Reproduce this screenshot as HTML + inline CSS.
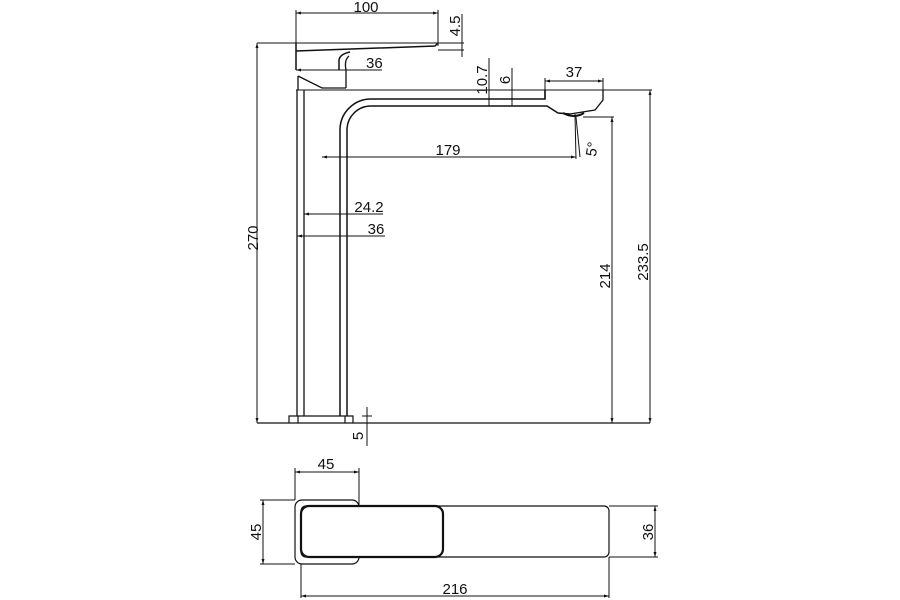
<!DOCTYPE html>
<html><head><meta charset="utf-8"><style>
html,body{margin:0;padding:0;background:#fff;}
svg{display:block;}
text{font-family:"Liberation Sans",Arial,sans-serif;font-size:15px;fill:#111;}
</style></head><body>
<svg width="900" height="600" viewBox="0 0 900 600" xmlns="http://www.w3.org/2000/svg">
<defs>
<marker id="a" viewBox="0 0 10 10" refX="10" refY="5" markerWidth="5" markerHeight="5" orient="auto-start-reverse"><path d="M0,2 L10,5 L0,8z" fill="#111"/></marker>
</defs>
<g stroke="#111" stroke-width="1" fill="none">
<line x1="296" y1="13" x2="438" y2="13" marker-start="url(#a)" marker-end="url(#a)"/>
<line x1="296" y1="10" x2="296" y2="52"/>
<line x1="438" y1="10" x2="438" y2="46"/>
<line x1="462" y1="14" x2="462" y2="57"/>
<line x1="257" y1="43" x2="464" y2="43"/>
<line x1="438" y1="50" x2="464" y2="50"/>
<path d="M296,43 L296,70 M296,51 L435,46 L438,43" stroke-width="1.5"/>
<path d="M350,52 Q340,54 339,60 L339,70" stroke-width="1.5"/>
<path d="M349,56 Q344,60 346,70 L346,88" stroke-width="1.3"/>
<path d="M298,76 L322,88 L346,88 M298,76 L298,90" stroke-width="1.3"/>
<line x1="296" y1="70" x2="382" y2="70" marker-start="url(#a)"/>
<line x1="296" y1="90" x2="652" y2="90"/>
<path d="M297,90 L297,416 M304,90 L304,416" stroke-width="1.3"/>
<path d="M340,416 L340,130 A31,31 0 0 1 371,99 L545,99 L545,90" stroke-width="1.5"/>
<path d="M347,416 L347,130 A24,24 0 0 1 371,106 L547,106 L558,113 L570,114" stroke-width="1.5"/>
<path d="M545,99 L545,90 M603,90 L603,100 L595,110 L570,114" stroke-width="1.3"/>
<path d="M563,113 Q574,119 584,113" stroke-width="2"/>
<line x1="489" y1="58" x2="489" y2="106"/>
<line x1="512" y1="68" x2="512" y2="106"/>
<line x1="545" y1="81" x2="603" y2="81" marker-start="url(#a)" marker-end="url(#a)"/>
<line x1="545" y1="78" x2="545" y2="90"/><line x1="603" y1="78" x2="603" y2="90"/>
<line x1="322" y1="157" x2="576" y2="157" marker-start="url(#a)" marker-end="url(#a)"/>
<line x1="575" y1="114" x2="576" y2="159"/>
<line x1="576" y1="117" x2="580" y2="157"/>
<line x1="583" y1="117" x2="614" y2="117"/>
<line x1="612" y1="117" x2="612" y2="423" marker-start="url(#a)" marker-end="url(#a)"/>
<line x1="650" y1="90" x2="650" y2="423" marker-start="url(#a)" marker-end="url(#a)"/>
<line x1="257" y1="43" x2="257" y2="423" marker-start="url(#a)" marker-end="url(#a)"/>
<line x1="304" y1="214" x2="383" y2="214" marker-start="url(#a)"/>
<line x1="297" y1="236" x2="385" y2="236" marker-start="url(#a)"/>
<line x1="257" y1="423" x2="650" y2="423" stroke-width="1.3"/>
<path d="M289,423 L289,416 L353,416 L353,423 M298,416 L298,423 M345,416 L345,423" stroke-width="1.2"/>
<line x1="367" y1="407" x2="367" y2="446"/>
<line x1="362" y1="416" x2="372" y2="416"/>
<line x1="295" y1="472" x2="359" y2="472" marker-start="url(#a)" marker-end="url(#a)"/>
<line x1="295" y1="468" x2="295" y2="500"/><line x1="359" y1="468" x2="359" y2="506"/>
<rect x="295" y="500" width="64" height="64" rx="7" stroke-width="1.2"/>
<rect x="301" y="506" width="308" height="51" rx="5" fill="#fff" stroke-width="1.2"/>
<rect x="301" y="506" width="142" height="51" rx="8" fill="#fff" stroke-width="2.2"/>
<line x1="263" y1="500" x2="263" y2="564" marker-start="url(#a)" marker-end="url(#a)"/>
<line x1="260" y1="500" x2="295" y2="500"/><line x1="260" y1="564" x2="295" y2="564"/>
<line x1="655" y1="506" x2="655" y2="557" marker-start="url(#a)" marker-end="url(#a)"/>
<line x1="609" y1="506" x2="658" y2="506"/><line x1="609" y1="557" x2="658" y2="557"/>
<line x1="301" y1="596" x2="609" y2="596" marker-start="url(#a)" marker-end="url(#a)"/>
<line x1="301" y1="564" x2="301" y2="598"/><line x1="609" y1="557" x2="609" y2="598"/>
</g>
<text x="366" y="12" text-anchor="middle">100</text>
<text transform="translate(460,26) rotate(-90)" text-anchor="middle">4.5</text>
<text x="366" y="68">36</text>
<text transform="translate(487,80) rotate(-90)" text-anchor="middle">10.7</text>
<text transform="translate(510,80) rotate(-90)" text-anchor="middle">6</text>
<text x="574" y="77" text-anchor="middle">37</text>
<text x="448" y="155" text-anchor="middle">179</text>
<text transform="translate(597,150) rotate(-80)" text-anchor="middle">5°</text>
<text x="369" y="212" text-anchor="middle">24.2</text>
<text x="376" y="234" text-anchor="middle">36</text>
<text transform="translate(258,238) rotate(-90)" text-anchor="middle">270</text>
<text transform="translate(610,276) rotate(-90)" text-anchor="middle">214</text>
<text transform="translate(648,262) rotate(-90)" text-anchor="middle">233.5</text>
<text transform="translate(363,436) rotate(-90)" text-anchor="middle">5</text>
<text x="326" y="469" text-anchor="middle">45</text>
<text transform="translate(261,532) rotate(-90)" text-anchor="middle">45</text>
<text transform="translate(653,532) rotate(-90)" text-anchor="middle">36</text>
<text x="455" y="594" text-anchor="middle">216</text>
</svg>
</body></html>
